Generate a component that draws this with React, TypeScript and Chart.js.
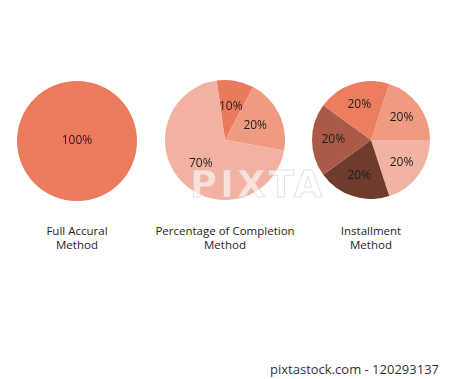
import React, { useEffect, useRef } from "react";
import { Chart, registerables } from "chart.js";

Chart.register(...registerables);

// ---- data ----
const fullAccrualValues = [100];
const completionValues = [10, 20, 70];
const installmentValues = [20, 20, 20, 20, 20];
const methodTitles = [
  ["Full Accural", "Method"],
  ["Percentage of Completion", "Method"],
  ["Installment", "Method"],
];
const footerText = "pixtastock.com - 120293137";
const watermarkText = "PIXTA";

// ---- styles ----
const fullColors = ["#EC7B5D"];
const completionColors = ["#EA7A5D", "#EF9B81", "#F3B2A1"];
const installmentColors = ["#EF9B81", "#F3B3A2", "#6E3B2D", "#A95B47", "#EC7D5F"];
const FONT = "'Open Sans', 'Noto Sans', sans-serif";

const labelPlugin = {
  id: "sliceLabels",
  afterDatasetsDraw(chart: any) {
    const ctx = chart.ctx;
    const frac = chart.options.plugins.sliceLabels?.frac ?? 0.62;
    const meta = chart.getDatasetMeta(0);
    const data = chart.data.datasets[0].data;
    ctx.save();
    ctx.font = "12px " + FONT;
    ctx.fillStyle = "#1e1e1e";
    ctx.textAlign = "center";
    ctx.textBaseline = "middle";
    meta.data.forEach((arc: any, i: number) => {
      const p = arc.getProps(["startAngle", "endAngle", "x", "y", "outerRadius"], true);
      const mid = (p.startAngle + p.endAngle) / 2;
      const r = data.length === 1 ? 0 : p.outerRadius * frac;
      ctx.fillText(data[i] + "%", p.x + Math.cos(mid) * r, p.y + Math.sin(mid) * r);
    });
    ctx.restore();
  },
};

function PieBox(props: {
  values: number[];
  colors: string[];
  rotation: number;
  cx: number;
  cy: number;
  r: number;
  frac?: number;
}) {
  const ref = useRef<HTMLCanvasElement>(null);
  useEffect(() => {
    const chart = new Chart(ref.current!, {
      type: "pie",
      data: {
        labels: props.values.map((_, i) => String(i)),
        datasets: [
          {
            data: props.values,
            backgroundColor: props.colors,
            borderWidth: 0,
          },
        ],
      },
      options: {
        responsive: false,
        maintainAspectRatio: false,
        animation: false,
        rotation: props.rotation,
        layout: { padding: 0 },
        plugins: {
          legend: { display: false },
          tooltip: { enabled: false },
          sliceLabels: { frac: props.frac ?? 0.62 },
        } as any,
      },
      plugins: [labelPlugin],
    });
    return () => chart.destroy();
  }, []);
  const size = props.r * 2;
  return (
    <canvas
      ref={ref}
      width={size}
      height={size}
      style={{ position: "absolute", left: props.cx - props.r, top: props.cy - props.r, width: size, height: size }}
    />
  );
}

const titleCenters = [77, 225, 371];

export default function App() {
  return (
    <div
      style={{
        position: "fixed",
        left: 0,
        top: 0,
        width: 450,
        height: 379,
        background: "#ffffff",
        overflow: "hidden",
        fontFamily: FONT,
      }}
    >
      <PieBox values={fullAccrualValues} colors={fullColors} rotation={0} cx={77} cy={141} r={60} />
      <PieBox values={completionValues} colors={completionColors} rotation={-8} cx={225} cy={140} r={60} frac={0.56} />
      <PieBox values={installmentValues} colors={installmentColors} rotation={18} cx={371} cy={140} r={59} frac={0.64} />
      {methodTitles.map((lines, i) => (
        <div
          key={i}
          style={{
            position: "absolute",
            left: titleCenters[i] - 90,
            width: 180,
            top: 224,
            textAlign: "center",
            fontSize: 11.5,
            lineHeight: "13.5px",
            color: "#1e1e1e",
          }}
        >
          {lines.map((l, j) => (
            <div key={j}>{l}</div>
          ))}
        </div>
      ))}
      <div
        style={{
          position: "absolute",
          left: 190,
          top: 163,
          fontSize: 37,
          fontWeight: 700,
          letterSpacing: 3,
          color: "rgba(255,255,255,0.6)",
          WebkitTextStroke: "1px rgba(190,190,190,0.45)",
          fontFamily: "'DejaVu Sans', sans-serif",
        }}
      >
        {watermarkText}
      </div>
      <div
        style={{
          position: "absolute",
          right: 11,
          top: 361,
          fontSize: 13,
          lineHeight: "17px",
          color: "#333333",
        }}
      >
        {footerText}
      </div>
    </div>
  );
}
